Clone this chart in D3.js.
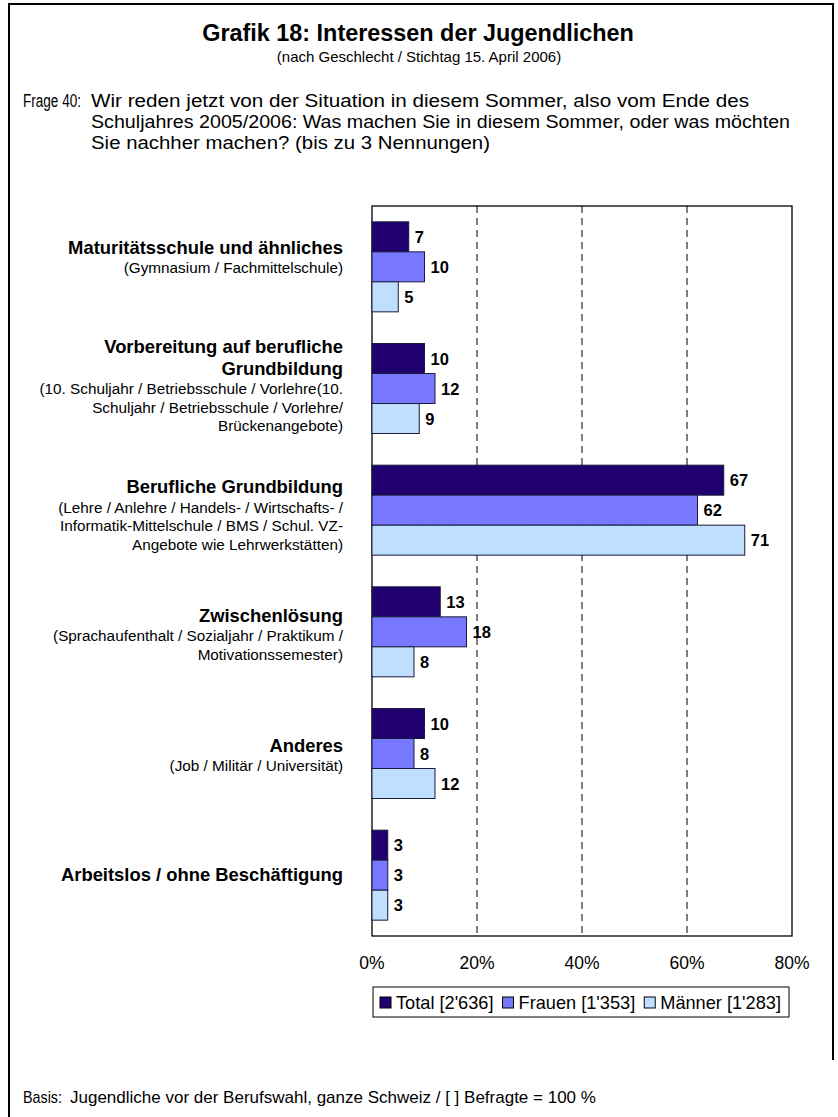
<!DOCTYPE html>
<html>
<head>
<meta charset="utf-8">
<script src="https://cdn.jsdelivr.net/npm/d3@7"></script>
<style>
  body { margin: 0; background: #fff; }
  text { font-family: "Liberation Sans", Arial, sans-serif; fill: #000; }
</style>
</head>
<body>
<svg id="chart" width="838" height="1117"></svg>
<script>
// categories (bold title lines + note lines)
const catTitles = [
  ["Maturitätsschule und ähnliches"],
  ["Vorbereitung auf berufliche", "Grundbildung"],
  ["Berufliche Grundbildung"],
  ["Zwischenlösung"],
  ["Anderes"],
  ["Arbeitslos / ohne Beschäftigung"]
];
const catNotes = [
  ["(Gymnasium / Fachmittelschule)"],
  ["(10. Schuljahr / Betriebsschule / Vorlehre(10.", "Schuljahr / Betriebsschule / Vorlehre/", "Brückenangebote)"],
  ["(Lehre / Anlehre / Handels- / Wirtschafts- /", "Informatik-Mittelschule / BMS / Schul. VZ-", "Angebote wie Lehrwerkstätten)"],
  ["(Sprachaufenthalt / Sozialjahr / Praktikum /", "Motivationssemester)"],
  ["(Job / Militär / Universität)"],
  []
];
const seriesNames = ["Total [2'636]", "Frauen [1'353]", "Männer [1'283]"];
const totalValues = [7, 10, 67, 13, 10, 3];
const frauenValues = [10, 12, 62, 18, 8, 3];
const maennerValues = [5, 9, 71, 8, 12, 3];
const tickValues = [0, 20, 40, 60, 80];

const seriesValues = [totalValues, frauenValues, maennerValues];
const colors = ["#20006E", "url(#hatch)", "#BFDFFF"];
const swatchColors = ["#20006E", "#7878FF", "#BFDFFF"];

// label first-baseline offset from the band centre
const labelDy = [-13, -36, -17, -10, -2, 6];

const svg = d3.select("#chart");

const defs = svg.append("defs");
const pat = defs.append("pattern")
  .attr("id", "hatch")
  .attr("patternUnits", "userSpaceOnUse")
  .attr("width", 3).attr("height", 3)
  .attr("patternTransform", "rotate(45)");
pat.append("rect").attr("width", 3).attr("height", 3).attr("fill", "#7676FF");
pat.append("line").attr("x1", 0).attr("y1", 0).attr("x2", 0).attr("y2", 3)
  .attr("stroke", "#8080FF").attr("stroke-width", 1);

// page frame
svg.append("path")
  .attr("d", "M9,1117 V4 H833 V1060")
  .attr("fill", "none").attr("stroke", "#000").attr("stroke-width", 2);

// headings
svg.append("text")
  .attr("x", 418).attr("y", 41).attr("text-anchor", "middle")
  .style("font-size", "23.4px").style("font-weight", "bold")
  .text("Grafik 18: Interessen der Jugendlichen");
svg.append("text")
  .attr("x", 419).attr("y", 62).attr("text-anchor", "middle")
  .style("font-size", "15px")
  .text("(nach Geschlecht / Stichtag 15. April 2006)");

const frage = [
  "Wir reden jetzt von der Situation in diesem Sommer, also vom Ende des",
  "Schuljahres 2005/2006: Was machen Sie in diesem Sommer, oder was möchten",
  "Sie nachher machen? (bis zu 3 Nennungen)"
];
const frageWidths = [658, 699, 399];
svg.append("text")
  .attr("x", 23).attr("y", 107).style("font-size", "17.5px")
  .attr("textLength", 58).attr("lengthAdjust", "spacingAndGlyphs")
  .text("Frage 40:");
frage.forEach((line, i) => {
  svg.append("text")
    .attr("x", 91).attr("y", 107 + i * 21).style("font-size", "17.5px")
    .attr("textLength", frageWidths[i]).attr("lengthAdjust", "spacingAndGlyphs")
    .text(line);
});

svg.append("text")
  .attr("x", 23).attr("y", 1103).style("font-size", "17px")
  .attr("textLength", 39).attr("lengthAdjust", "spacingAndGlyphs")
  .text("Basis:");
svg.append("text")
  .attr("x", 70).attr("y", 1103).style("font-size", "17px")
  .text("Jugendliche vor der Berufswahl, ganze Schweiz / [ ] Befragte = 100 %");

// plot
const plotLeft = 372, plotRight = 792, plotTop = 206, plotBottom = 936;
const x = d3.scaleLinear().domain([0, 80]).range([plotLeft, plotRight]);
const y = d3.scaleBand().domain(d3.range(catTitles.length)).range([plotTop, plotBottom]);
const barH = 30;
const groupH = barH * 3;

// grid lines
svg.append("g").selectAll("line")
  .data(tickValues.filter(t => t > 0 && t < 80))
  .join("line")
  .attr("x1", d => x(d)).attr("x2", d => x(d))
  .attr("y1", plotTop).attr("y2", plotBottom)
  .attr("stroke", "#000").attr("stroke-width", 1)
  .attr("stroke-dasharray", "7,5");

svg.append("rect")
  .attr("x", plotLeft).attr("y", plotTop).attr("width", plotRight - plotLeft).attr("height", plotBottom - plotTop)
  .attr("fill", "none").attr("stroke", "#000").attr("stroke-width", 1.3);

// bars
seriesValues.forEach((vals, s) => {
  const g = svg.append("g");
  g.selectAll("rect").data(vals).join("rect")
    .attr("x", x(0))
    .attr("y", (d, i) => y(i) + (y.bandwidth() - groupH) / 2 + s * barH)
    .attr("width", d => x(d) - x(0))
    .attr("height", barH)
    .attr("fill", colors[s])
    .attr("stroke", "#1a1a3a").attr("stroke-width", 1);
  g.selectAll("text").data(vals).join("text")
    .attr("x", d => x(d) + 6)
    .attr("y", (d, i) => y(i) + (y.bandwidth() - groupH) / 2 + s * barH + barH / 2 + 6)
    .style("font-size", "16.5px").style("font-weight", "bold")
    .text(d => d);
});

// axis tick labels
svg.append("g").selectAll("text").data(tickValues).join("text")
  .attr("x", d => x(d)).attr("y", 969)
  .attr("text-anchor", "middle").style("font-size", "17.5px")
  .text(d => d + "%");

// category labels
catTitles.forEach((lines, i) => {
  const cy = y(i) + y.bandwidth() / 2;
  const yy = cy + labelDy[i];
  lines.forEach((ln, j) => {
    svg.append("text").attr("x", 343).attr("y", yy + j * 22)
      .attr("text-anchor", "end")
      .style("font-size", "18.4px").style("font-weight", "bold").text(ln);
  });
  const noteStart = yy + (lines.length - 1) * 22 + 19.5;
  catNotes[i].forEach((ln, j) => {
    svg.append("text").attr("x", 343).attr("y", noteStart + j * 18.5)
      .attr("text-anchor", "end")
      .style("font-size", "15.3px").text(ln);
  });
});

// legend
const lg = svg.append("g");
lg.append("rect").attr("x", 373).attr("y", 987).attr("width", 416).attr("height", 30)
  .attr("fill", "#fff").attr("stroke", "#000").attr("stroke-width", 1);
let lx = 380;
seriesNames.forEach((name, i) => {
  lg.append("rect").attr("x", lx).attr("y", 997).attr("width", 11).attr("height", 11)
    .attr("fill", swatchColors[i]).attr("stroke", "#000").attr("stroke-width", 1);
  const t = lg.append("text").attr("x", lx + 16).attr("y", 1009)
    .style("font-size", "18.2px").text(name);
  lx += 16 + t.node().getComputedTextLength() + 9;
});
</script>
</body>
</html>
